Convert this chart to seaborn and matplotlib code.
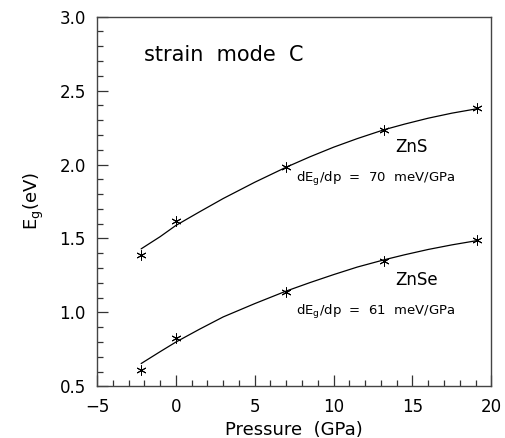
import matplotlib
matplotlib.use("Agg")
import matplotlib.pyplot as plt
import seaborn as sns
import pandas as pd
from matplotlib.ticker import MultipleLocator

# Measured points
pressure_pts = [-2.2, 0.0, 7.0, 13.2, 19.1]
zns_pts = [1.39, 1.615, 1.985, 2.235, 2.38]
znse_pts = [0.61, 0.83, 1.14, 1.35, 1.49]

# Fitted curves
pressure_fit = [-2.2, -1.0, 0.0, 1.5, 3.0, 5.0, 7.0, 8.5, 10.0, 11.5, 13.2, 14.5, 16.0, 17.5, 19.1]
zns_fit = [1.43, 1.512, 1.588, 1.68, 1.77, 1.88, 1.982, 2.052, 2.117, 2.175, 2.235, 2.273, 2.313, 2.347, 2.377]
znse_fit = [0.655, 0.735, 0.80, 0.887, 0.97, 1.06, 1.145, 1.202, 1.256, 1.307, 1.356, 1.390, 1.426, 1.457, 1.486]

x_ticks = [-5, 0, 5, 10, 15, 20]
y_ticks = [0.5, 1.0, 1.5, 2.0, 2.5, 3.0]

sns.set_style("ticks")
plt.rcParams["font.family"] = ["DejaVu Sans"]
plt.rcParams["mathtext.default"] = "regular"
plt.rcParams["text.color"] = "black"
plt.rcParams["axes.labelcolor"] = "black"
plt.rcParams["xtick.color"] = "black"
plt.rcParams["ytick.color"] = "black"

pts = pd.DataFrame({
    "p": pressure_pts * 2,
    "E": zns_pts + znse_pts,
    "mat": ["ZnS"] * len(pressure_pts) + ["ZnSe"] * len(pressure_pts),
})
fit = pd.DataFrame({
    "p": pressure_fit * 2,
    "E": zns_fit + znse_fit,
    "mat": ["ZnS"] * len(pressure_fit) + ["ZnSe"] * len(pressure_fit),
})

fig = plt.figure(figsize=(5.05, 4.38), dpi=100)
ax = fig.add_axes([0.192, 0.1176, 0.781, 0.8447])

sns.lineplot(data=fit, x="p", y="E", units="mat", estimator=None,
             color="black", linewidth=0.9, ax=ax, legend=False, sort=True)
sns.scatterplot(data=pts, x="p", y="E", marker=(6, 2, 0), s=45,
                color="black", linewidth=0.7, ax=ax, legend=False)

ax.set_xlim(-5, 20)
ax.set_ylim(0.5, 3.0)
ax.set_xticks(x_ticks)
ax.set_yticks(y_ticks)
ax.set_xticklabels(["\u22125", "0", "5", "10", "15", "20"])
ax.set_yticklabels([f"{v:.1f}" for v in y_ticks])
ax.xaxis.set_minor_locator(MultipleLocator(1))
ax.yaxis.set_minor_locator(MultipleLocator(0.1))
ax.tick_params(which="major", direction="in", length=8, width=0.9,
               labelsize=12, pad=8, color="#333333")
ax.tick_params(which="minor", direction="in", length=4, width=0.9,
               color="#333333")
ax.tick_params(top=False, right=False, which="both")
for s in ax.spines.values():
    s.set_linewidth(1.0)
    s.set_color("#444444")

ax.set_xlabel("Pressure  (GPa)", fontsize=13, labelpad=4)
ax.set_ylabel("E$_g$(eV)", fontsize=13, labelpad=10)

ax.text(-2.0, 2.74, "strain  mode  C", fontsize=15, va="center", ha="left")
ax.text(13.9, 2.12, "ZnS", fontsize=12, va="center", ha="left")
ax.text(7.6, 1.90, "dE$_g$/dp  =  70  meV/GPa", fontsize=9.5, va="center", ha="left")
ax.text(13.9, 1.22, "ZnSe", fontsize=12, va="center", ha="left")
ax.text(7.6, 1.00, "dE$_g$/dp  =  61  meV/GPa", fontsize=9.5, va="center", ha="left")

fig.savefig("out.png", dpi=100)
